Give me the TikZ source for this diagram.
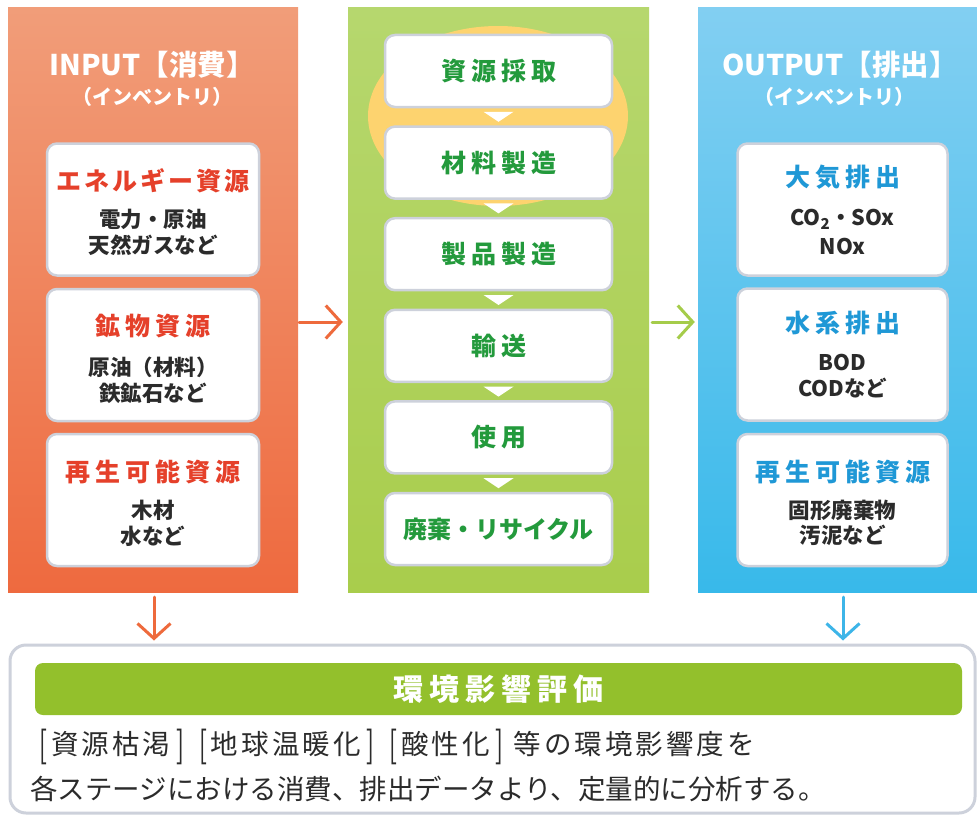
\documentclass[tikz,border=0pt]{standalone}
\usepackage{fontspec}
\usepackage{graphicx}
\setmainfont{Noto Sans CJK JP}
\newfontfamily\spfont[LetterSpace=20]{Noto Sans CJK JP}
\newfontfamily\spfontb[LetterSpace=12]{Noto Sans CJK JP}
\newfontfamily\bodysp[LetterSpace=11]{Noto Sans CJK JP}
\usetikzlibrary{arrows.meta,calc}
\newcommand\lbk{\kern5pt\raisebox{-0.13em}{\scalebox{0.85}[1.35]{[}}\kern4pt}
\newcommand\rbk{\kern6pt\raisebox{-0.13em}{\scalebox{0.85}[1.35]{]}}\kern10pt}
\definecolor{orTop}{HTML}{F19D79}
\definecolor{orBot}{HTML}{EE6A3F}
\definecolor{grTop}{HTML}{B6D76E}
\definecolor{grBot}{HTML}{A9CD4C}
\definecolor{blTop}{HTML}{82CFF2}
\definecolor{blBot}{HTML}{38B9EA}
\definecolor{yel}{HTML}{FDD36F}
\definecolor{redtxt}{HTML}{E5402A}
\definecolor{grtxt}{HTML}{239A3C}
\definecolor{bltxt}{HTML}{1F98D6}
\definecolor{darktxt}{HTML}{2B2B2B}
\definecolor{boxedge}{HTML}{CDD1DB}
\definecolor{barg}{HTML}{93C02C}
\definecolor{arrOr}{HTML}{EE6A3C}
\definecolor{arrGr}{HTML}{A5CC4A}
\definecolor{arrBl}{HTML}{3DB5E8}
\tikzset{
  panel/.style={rectangle, inner sep=0pt, draw=none},
  wbox/.style={rectangle, rounded corners=10pt, fill=white, draw=boxedge, line width=2.5pt,
    inner sep=0pt, minimum width=212pt, minimum height=132pt},
  gbox/.style={wbox, minimum width=227pt, minimum height=72pt},
  ttl/.style={text=white, inner sep=0pt, font=\fontsize{28.5}{32}\selectfont\bfseries},
  subttl/.style={text=white, inner sep=0pt, font=\fontsize{20}{24}\selectfont\bfseries},
  hdr/.style={inner sep=0pt, font=\fontsize{25}{30}\selectfont\bfseries\spfont},
  subtxt/.style={inner sep=0pt, text=darktxt, font=\fontsize{21.5}{25}\selectfont\bfseries},
  gtxt/.style={inner sep=0pt, text=grtxt, font=\fontsize{25}{30}\selectfont\bfseries\spfont},
  conn/.style={line width=3pt, line cap=round, line join=round,
    -{Straight Barb[length=15pt,width=33pt,line width=3pt]}},
  tri/.style={fill=white, draw=none},
  body/.style={inner sep=0pt, anchor=west, text=darktxt, font=\fontsize{27.5}{32}\selectfont},
}
\begin{document}
\begin{tikzpicture}[x=1pt,y=-1pt]
\useasboundingbox (0,0) rectangle (977,816);
\fill[white] (0,0) rectangle (977,816);
% panels
\node[panel, top color=orTop, bottom color=orBot, minimum width=290pt, minimum height=584pt] (inp) at (153,300) {};
\node[panel, top color=grTop, bottom color=grBot, minimum width=301pt, minimum height=584pt] (mid) at (498.5,300) {};
\node[panel, top color=blTop, bottom color=blBot, minimum width=279pt, minimum height=584pt] (out) at (837.5,300) {};
% yellow ellipse
\fill[yel] (498,116) ellipse [x radius=130, y radius=90];
% titles
\node[ttl] (inpt) at (152,65) {INPUT【消費】};
\node[subttl] (inps) at (152.5,97) {（インベントリ）};
\node[ttl] (outt) at (840,65) {OUTPUT【排出】};
\node[subttl] (outs) at (834,97) {（インベントリ）};
% input boxes
\node[wbox] (o1) at (153,209.5) {};
\node[wbox] (o2) at (153,355) {};
\node[wbox] (o3) at (153,500) {};
\node[hdr, text=redtxt, font=\fontsize{25}{30}\selectfont\bfseries\spfontb] (o1h) at ($(o1.center)+(0,-29)$) {エネルギー資源};
\node[subtxt] (o1a) at ($(o1.center)+(0,10)$) {電力・原油};
\node[subtxt] (o1b) at ($(o1.center)+(0,36)$) {天然ガスなど};
\node[hdr, text=redtxt] (o2h) at ($(o2.center)+(0,-29)$) {鉱物資源};
\node[subtxt] (o2a) at ($(o2.center)+(0,12)$) {原油（材料）};
\node[subtxt] (o2b) at ($(o2.center)+(0,38)$) {鉄鉱石など};
\node[hdr, text=redtxt] (o3h) at ($(o3.center)+(0,-28)$) {再生可能資源};
\node[subtxt] (o3a) at ($(o3.center)+(0,10)$) {木材};
\node[subtxt] (o3b) at ($(o3.center)+(0,36)$) {水など};
% output boxes
\node[wbox, minimum width=210pt] (b1) at (842.5,209.5) {};
\node[wbox, minimum width=210pt] (b2) at (842.5,354.5) {};
\node[wbox, minimum width=210pt] (b3) at (842.5,500) {};
\node[hdr, text=bltxt] (b1h) at ($(b1.center)+(0,-32)$) {大気排出};
\node[subtxt] (b1a) at ($(b1.center)+(0,10)$) {CO\textsubscript{2}・SOx};
\node[subtxt] (b1b) at ($(b1.center)+(0,37)$) {NOx};
\node[hdr, text=bltxt] (b2h) at ($(b2.center)+(0,-32)$) {水系排出};
\node[subtxt] (b2a) at ($(b2.center)+(0,8)$) {BOD};
\node[subtxt] (b2b) at ($(b2.center)+(0,34)$) {CODなど};
\node[hdr, text=bltxt] (b3h) at ($(b3.center)+(0,-28)$) {再生可能資源};
\node[subtxt] (b3a) at ($(b3.center)+(0,10)$) {固形廃棄物};
\node[subtxt] (b3b) at ($(b3.center)+(0,35)$) {汚泥など};
% life cycle boxes
\node[gbox] (g1) at (498.5,71) {};
\node[gbox] (g2) at (498.5,162.6) {};
\node[gbox] (g3) at (498.5,254.2) {};
\node[gbox] (g4) at (498.5,345.8) {};
\node[gbox] (g5) at (498.5,437.4) {};
\node[gbox] (g6) at (498.5,529) {};
\node[gtxt] (g1t) at (g1.center) {資源採取};
\node[gtxt] (g2t) at (g2.center) {材料製造};
\node[gtxt] (g3t) at (g3.center) {製品製造};
\node[gtxt] (g4t) at (g4.center) {輸送};
\node[gtxt] (g5t) at (g5.center) {使用};
\node[gtxt, font=\fontsize{24}{28}\selectfont\bfseries] (g6t) at (g6.center) {廃棄・リサイクル};
\foreach \a/\b in {g1/g2,g2/g3,g3/g4,g4/g5,g5/g6}{
  \fill[tri] ($(\a.south)!0.5!(\b.north)+(-15,-5)$) -- ++(30,0) -- ++(-15,10) -- cycle;
}
% bottom box
\node[rectangle, rounded corners=16pt, fill=white, draw=boxedge, line width=3pt,
  minimum width=965pt, minimum height=168pt, inner sep=0pt] (bot) at (492.5,729) {};
\node[rectangle, rounded corners=8pt, fill=barg, minimum width=927pt, minimum height=52pt, inner sep=0pt] (bar) at (498.5,689) {};
\node[inner sep=0pt, text=white, font=\fontsize{30}{34}\selectfont\bfseries\spfont] (bart) at (bar.center) {環境影響評価};
\node[body, font=\fontsize{27.5}{32}\selectfont\bodysp] (l1) at (34,747) {\lbk 資源枯渇\rbk\lbk 地球温暖化\rbk\lbk 酸性化\rbk 等の環境影響度を};
\node[body] (l2) at (30,789) {各ステージにおける消費、排出データより、定量的に分析する。};
% connectors
\draw[conn, draw=arrOr, shorten <=1pt, shorten >=5pt] ([yshift=-22pt]inp.east) -- ([yshift=-22pt]inp.east -| mid.west);
\draw[conn, draw=arrGr, shorten <=3pt, shorten >=3pt] ([yshift=-22pt]mid.east) -- ([yshift=-22pt]mid.east -| out.west);
\draw[conn, draw=arrOr, shorten <=5pt, shorten >=3pt] ([xshift=1pt]inp.south) -- ([xshift=1pt]inp.south |- bot.north);
\draw[conn, draw=arrBl, shorten <=5pt, shorten >=3pt] ([xshift=5.5pt]out.south) -- ([xshift=5.5pt]out.south |- bot.north);
\end{tikzpicture}
\end{document}
